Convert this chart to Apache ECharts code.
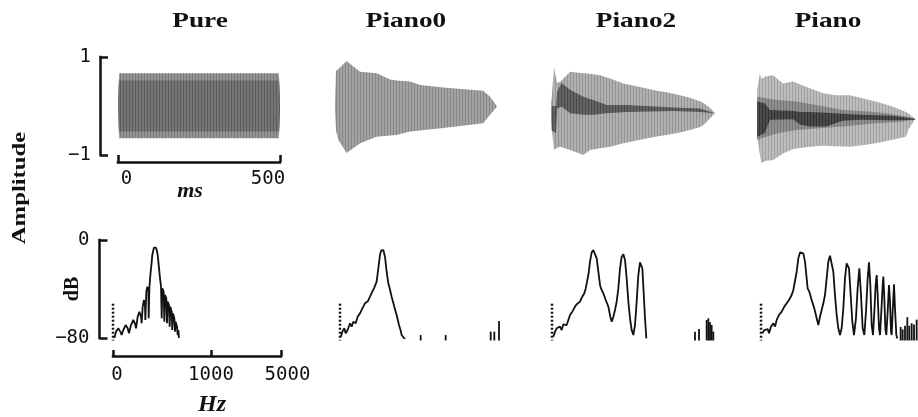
<!DOCTYPE html>
<html>
<head>
<meta charset="utf-8">
<script src="https://cdn.jsdelivr.net/npm/echarts@6/dist/echarts.min.js"></script>
<style>
  html, body { margin: 0; background: #fff; }
  #chart { width: 918px; height: 417px; }
</style>
</head>
<body>
<div id="chart"></div>
<script>
const panelTitles = ["Pure", "Piano0", "Piano2", "Piano"];
const timeTicks = [0, 500];
const ampTicks = [-1, 1];
const dbTicks = [-80, 0];
const freqTicks = [0, 1000, 5000];

// waveform envelopes: time in ms, upper and lower amplitude
const pureT = [0, 2, 4, 496, 498, 500];
const pureHi = [0.02, 0.5, 0.67, 0.67, 0.5, 0.02];
const pureLo = [-0.02, -0.5, -0.66, -0.66, -0.5, -0.02];
const pureCoreHi = [0.02, 0.4, 0.52, 0.52, 0.4, 0.02];
const pureCoreLo = [-0.02, -0.4, -0.52, -0.52, -0.4, -0.02];

const piano0T = [0, 3, 10, 35, 76, 126, 167, 187, 227, 258, 328, 449, 470, 490];
const piano0Hi = [0.05, 0.72, 0.75, 0.92, 0.7, 0.67, 0.54, 0.52, 0.5, 0.43, 0.38, 0.31, 0.19, 0];
const piano0Lo = [-0.05, -0.5, -0.69, -0.96, -0.76, -0.63, -0.6, -0.59, -0.52, -0.5, -0.45, -0.35, -0.18, -0.02];

const piano2T = [0, 2, 9, 18, 29, 58, 98, 118, 148, 179, 219, 270, 320, 350, 391, 421, 452, 462, 482, 497];
const piano2Hi = [0.1, 0.15, 0.8, 0.47, 0.5, 0.7, 0.67, 0.66, 0.63, 0.56, 0.46, 0.39, 0.31, 0.28, 0.22, 0.17, 0.09, 0.06, -0.04, -0.15];
const piano2Lo = [-0.3, -0.42, -0.9, -0.85, -0.83, -0.9, -1, -0.9, -0.86, -0.83, -0.76, -0.69, -0.62, -0.59, -0.54, -0.49, -0.43, -0.39, -0.25, -0.15];
const piano2DarkT = [2, 15, 19, 32, 58, 98, 128, 169, 229, 371, 452, 497];
const piano2DarkHi = [0, 0, 0.3, 0.47, 0.33, 0.19, 0.12, 0.02, 0.02, -0.03, -0.05, -0.15];
const piano2DarkLo = [-0.5, -0.55, -0.05, -0.01, -0.15, -0.18, -0.18, -0.15, -0.12, -0.1, -0.12, -0.15];

const pianoT = [0, 4, 9, 14, 25, 50, 81, 112, 164, 205, 246, 287, 328, 369, 421, 462, 472, 491];
const pianoHi = [0.33, 0.45, 0.67, 0.55, 0.6, 0.63, 0.46, 0.5, 0.36, 0.26, 0.22, 0.22, 0.16, 0.09, -0.01, -0.12, -0.16, -0.27];
const pianoLo = [-0.6, -0.76, -1, -1.17, -1.12, -1.1, -0.97, -0.88, -0.83, -0.81, -0.82, -0.83, -0.8, -0.76, -0.69, -0.63, -0.46, -0.27];
const pianoMidT = [0, 61, 122, 184, 266, 369, 452, 491];
const pianoMidHi = [0.19, 0.12, 0.09, 0.02, -0.08, -0.12, -0.2, -0.26];
const pianoMidLo = [-0.69, -0.56, -0.49, -0.46, -0.42, -0.35, -0.32, -0.27];
const pianoDarkT = [0, 25, 40, 112, 133, 164, 215, 266, 318, 421, 491];
const pianoDarkHi = [0.09, 0.05, -0.08, -0.1, -0.12, -0.12, -0.14, -0.16, -0.18, -0.2, -0.26];
const pianoDarkLo = [-0.63, -0.55, -0.28, -0.27, -0.38, -0.42, -0.42, -0.3, -0.28, -0.29, -0.28];

// spectra: frequency in Hz, level in dB
const pureFreq = [14, 31, 54, 78, 88, 105, 129, 150, 163, 184, 207, 224, 235, 252, 269, 286, 292, 303, 316, 326, 330, 340, 350, 361, 364, 371, 378, 395, 401, 412, 418, 429, 439, 446, 456, 463, 480, 490, 497, 503, 517, 524, 531, 544, 551, 558, 571, 578, 585, 599, 605, 612, 626, 633, 639, 653, 660, 667, 673];
const pureLevel = [-80, -74.8, -72.1, -75.4, -77.6, -73.5, -69.4, -72.1, -76.2, -69.4, -65.3, -68, -72.1, -62.6, -58.5, -62.6, -68, -54.4, -49, -53.1, -65.3, -42.2, -38.1, -40.8, -63.9, -39.5, -31.3, -17.7, -12.2, -8.2, -6.3, -5.4, -6.3, -8.2, -12.2, -17.7, -31.3, -38.1, -63.9, -39.5, -42.2, -66.7, -44.9, -47.6, -68, -50.3, -53.1, -70.7, -54.4, -58.5, -73.5, -59.9, -63.9, -74.8, -66.7, -70.7, -77.6, -73.5, -80];

const piano0Freq = [10, 24, 44, 58, 78, 102, 119, 136, 160, 180, 204, 228, 255, 282, 306, 330, 350, 364, 374, 391, 408, 420, 432, 442, 459, 476, 493, 503, 527, 554, 578, 602, 612, 622, 629, 646, 663];
const piano0Level = [-78.9, -74.8, -72.1, -76.2, -73.5, -68, -70.7, -66.7, -68, -62.6, -59.9, -55.8, -51.7, -50.3, -46.3, -42.2, -38.9, -38.1, -34, -23.1, -12.2, -8.5, -7.3, -8.2, -13.6, -25.9, -35.4, -38.1, -46.3, -54.4, -61.2, -69.4, -72.1, -74.8, -77.6, -78.9, -81];
const piano0SpikeFreq = [823, 1438, 4010, 4219, 4486];
const piano0SpikeLevel = [-77.6, -77.6, -74.8, -74.8, -66.1];

const piano2Freq = [14, 31, 48, 65, 82, 99, 116, 133, 150, 167, 184, 207, 235, 252, 269, 286, 309, 330, 344, 357, 371, 388, 405, 422, 439, 456, 473, 490, 500, 524, 548, 575, 595, 609, 626, 643, 660, 677, 694, 711, 728, 745, 762, 779, 796, 813, 830, 847, 864, 881, 898, 908, 922, 935, 949, 963];
const piano2Level = [-78.9, -74.8, -72.1, -73.5, -70.7, -73.5, -68.8, -67.2, -69.4, -65.3, -61.2, -58.5, -54.4, -52.5, -53.1, -50.3, -46.3, -43.5, -39.5, -38.1, -28.6, -17.7, -10.1, -8.2, -9, -15, -25.9, -36.7, -39.5, -43.5, -49, -54.4, -62.6, -66.7, -62.6, -57.1, -50.3, -39.5, -23.1, -13.6, -11.7, -16.3, -31.3, -50.3, -63.9, -73.5, -77.6, -69.4, -50.3, -28.6, -18.2, -17.1, -23.1, -42.2, -63.9, -80.3];
const piano2SpikeFreq = [3571, 3800, 4238, 4333, 4429, 4524, 4619];
const piano2SpikeLevel = [-74.8, -72.7, -65.3, -63.9, -67.2, -69.4, -74.8];

const pianoFreq = [14, 34, 48, 68, 82, 102, 126, 143, 160, 184, 211, 238, 262, 286, 313, 330, 347, 364, 381, 398, 415, 432, 449, 466, 476, 493, 517, 544, 568, 585, 602, 619, 636, 653, 670, 687, 704, 721, 738, 755, 772, 789, 806, 823, 840, 857, 874, 884, 898, 915, 932, 949, 969, 986, 1019, 1114, 1210, 1305, 1400, 1495, 1571, 1648, 1724, 1800, 1876, 1952, 2010, 2067, 2143, 2200, 2276, 2352, 2390, 2448, 2505, 2562, 2638, 2714, 2771, 2829, 2867, 2924, 3000, 3057, 3133, 3190];
const pianoLevel = [-76.2, -73.5, -74.8, -72.7, -76.2, -70.7, -68, -70.7, -65.3, -61.2, -58.5, -54.4, -51.7, -49, -44.9, -40.8, -39.5, -25.9, -15, -10.1, -9, -10.9, -17.7, -31.3, -39.5, -42.2, -49, -55.8, -63.9, -69.4, -62.6, -57.1, -51.7, -44.9, -31.3, -17.7, -12.8, -13.6, -25.9, -44.9, -61.2, -72.1, -77.6, -72.1, -55.8, -31.3, -19, -18.2, -23.1, -44.9, -66.7, -77.6, -63.9, -39.5, -23.1, -44.9, -72.1, -77.6, -58.5, -31.3, -18.2, -36.7, -69.4, -77.6, -58.5, -36.7, -28.6, -44.9, -72.1, -77.6, -58.5, -36.7, -29.9, -47.6, -72.1, -77.6, -58.5, -36.7, -50.3, -74.8, -77.6, -58.5, -36.2, -55.8, -77.6, -80.3];
const pianoSpikeFreq = [3381, 3495, 3629, 3762, 3876, 4010, 4143, 4295];
const pianoSpikeLevel = [-71, -73, -70, -63, -70, -68, -69, -65];

// dotted marker at 0 Hz, dB range
const markerSpan = [-52, -82];

// frequency axis: 0-1000 Hz takes the first 98 units, 1000-5000 Hz the last 70
const LOW_SPAN = 98;
const HIGH_SPAN = 70;
function warpHz(f) {
  return f <= 1000 ? (f / 1000) * LOW_SPAN : LOW_SPAN + ((f - 1000) / 4000) * HIGH_SPAN;
}

const INK = "#111";
const digitFont = { fontFamily: "DejaVu Sans Mono", fontSize: 19, color: INK };

const waveGrids = [
  { left: 118, width: 162 },
  { left: 335, width: 165 },
  { left: 551, width: 165 },
  { left: 757, width: 161 }
];
const specLefts = [113, 340, 552, 761];

// fine vertical hatching, to look like a densely drawn waveform
function stripes(base, line) {
  const c = document.createElement("canvas");
  c.width = 3;
  c.height = 6;
  const ctx = c.getContext("2d");
  ctx.fillStyle = base;
  ctx.fillRect(0, 0, 3, 6);
  ctx.fillStyle = line;
  ctx.fillRect(0, 0, 1, 6);
  return { image: c, repeat: "repeat" };
}

function envelopeSeries(axis, t, hi, lo, fill) {
  return {
    type: "custom",
    xAxisIndex: axis,
    yAxisIndex: axis,
    silent: true,
    clip: false,
    encode: { x: 0, y: [1, 2] },
    data: t.map((x, i) => [x, hi[i], lo[i]]),
    renderItem(params, api) {
      if (params.dataIndex !== 0) return null;
      const top = t.map((x, i) => api.coord([x, hi[i]]));
      const bottom = t.map((x, i) => api.coord([x, lo[i]])).reverse();
      return {
        type: "polygon",
        shape: { points: top.concat(bottom) },
        style: { fill }
      };
    }
  };
}

function spectrumSeries(axis, freq, level) {
  return {
    type: "line",
    xAxisIndex: axis,
    yAxisIndex: axis,
    silent: true,
    showSymbol: false,
    lineStyle: { color: INK, width: 1.8 },
    data: freq.map((f, i) => [warpHz(f), level[i]])
  };
}

function markerSeries(axis) {
  return {
    type: "line",
    xAxisIndex: axis,
    yAxisIndex: axis,
    silent: true,
    clip: false,
    showSymbol: false,
    lineStyle: { color: INK, width: 2.5, type: [2, 2] },
    data: markerSpan.map((v) => [0, v])
  };
}

function spikeSeries(axis, freq, level) {
  return {
    type: "custom",
    xAxisIndex: axis,
    yAxisIndex: axis,
    silent: true,
    clip: false,
    data: freq.map((f, i) => [warpHz(f), level[i]]),
    renderItem(params, api) {
      const top = api.coord([api.value(0), api.value(1)]);
      const base = api.coord([api.value(0), -82]);
      return {
        type: "line",
        shape: { x1: top[0], y1: top[1], x2: base[0], y2: base[1] },
        style: { stroke: INK, lineWidth: 1.8 }
      };
    }
  };
}

function bracketLine() {
  return { show: true, onZero: false, lineStyle: { color: INK, width: 2.5, cap: "square" } };
}

function minusLabel(v) {
  return v < 0 ? "\u2212" + Math.abs(v) : String(v);
}

function buildAxes() {
  const xAxis = [];
  const yAxis = [];
  const hidden = { show: false };

  for (let i = 0; i < 4; i++) {
    const first = i === 0;
    xAxis.push({
      gridIndex: i,
      type: "value",
      position: "bottom",
      min: 0,
      max: 500,
      show: first,
      offset: 7,
      axisLine: bracketLine(),
      axisTick: { show: true, inside: true, length: 7, customValues: timeTicks, lineStyle: { color: INK, width: 2.5 } },
      axisLabel: {
        customValues: timeTicks,
        margin: 8,
        ...digitFont,
        formatter: (v) => (v === 0 ? "{a|0}" : "{b|" + v + "}"),
        rich: {
          a: { ...digitFont, padding: [0, 0, 0, 17] },
          b: { ...digitFont, padding: [0, 24, 0, 0] }
        }
      },
      splitLine: hidden,
      name: first ? "ms" : "",
      nameLocation: "middle",
      nameGap: 18,
      nameMoveOverlap: false,
      nameTextStyle: {
        fontFamily: "Liberation Serif",
        fontStyle: "italic",
        fontWeight: "bold",
        fontSize: 22,
        color: INK,
        padding: [0, 18, 0, 0]
      }
    });
    yAxis.push({
      gridIndex: i,
      type: "value",
      position: "left",
      min: -1,
      max: 1,
      show: first,
      offset: 18,
      axisLine: bracketLine(),
      axisTick: { show: true, inside: true, length: 8, customValues: ampTicks, lineStyle: { color: INK, width: 2.5 } },
      axisLabel: { customValues: ampTicks, margin: 9, ...digitFont, formatter: minusLabel },
      splitLine: hidden
    });
  }

  for (let i = 0; i < 4; i++) {
    const first = i === 0;
    xAxis.push({
      gridIndex: 4 + i,
      type: "value",
      position: "bottom",
      min: 0,
      max: LOW_SPAN + HIGH_SPAN,
      show: first,
      offset: 18,
      axisLine: bracketLine(),
      axisTick: {
        show: true,
        inside: true,
        length: 6,
        customValues: freqTicks.map(warpHz),
        lineStyle: { color: INK, width: 2.5 }
      },
      axisLabel: {
        customValues: freqTicks.map(warpHz),
        margin: 10,
        ...digitFont,
        formatter: (v) => {
          const hz = freqTicks.find((f) => Math.abs(warpHz(f) - v) < 1e-6);
          if (hz === 0) return "{a|0}";
          if (hz === 5000) return "{c|5000}";
          return String(hz);
        },
        rich: {
          a: { ...digitFont, padding: [0, 0, 0, 8] },
          c: { ...digitFont, padding: [0, 0, 0, 13] }
        }
      },
      splitLine: hidden,
      name: first ? "Hz" : "",
      nameLocation: "middle",
      nameGap: 37,
      nameMoveOverlap: false,
      nameTextStyle: {
        fontFamily: "Liberation Serif",
        fontStyle: "italic",
        fontWeight: "bold",
        fontSize: 24,
        color: INK,
        padding: [0, 0, 0, 30]
      }
    });
    yAxis.push({
      gridIndex: 4 + i,
      type: "value",
      position: "left",
      min: -80,
      max: 0,
      show: first,
      offset: 13.5,
      axisLine: bracketLine(),
      axisTick: { show: true, inside: true, length: 8, customValues: dbTicks, lineStyle: { color: INK, width: 2.5 } },
      axisLabel: { customValues: dbTicks, margin: 10, ...digitFont, formatter: minusLabel },
      splitLine: hidden,
      name: first ? "dB" : "",
      nameLocation: "middle",
      nameGap: 17,
      nameMoveOverlap: false,
      nameTextStyle: { fontFamily: "Liberation Serif", fontWeight: "bold", fontSize: 20, color: INK }
    });
  }
  return { xAxis, yAxis };
}

function buildSeries() {
  return [
    envelopeSeries(0, pureT, pureHi, pureLo, stripes("#959595", "#7a7a7a")),
    envelopeSeries(0, pureT, pureCoreHi, pureCoreLo, stripes("#747474", "#5e5e5e")),
    envelopeSeries(1, piano0T, piano0Hi, piano0Lo, stripes("#a2a2a2", "#878787")),
    envelopeSeries(2, piano2T, piano2Hi, piano2Lo, stripes("#b0b0b0", "#949494")),
    envelopeSeries(2, piano2DarkT, piano2DarkHi, piano2DarkLo, stripes("#626262", "#4c4c4c")),
    envelopeSeries(3, pianoT, pianoHi, pianoLo, stripes("#bcbcbc", "#a2a2a2")),
    envelopeSeries(3, pianoMidT, pianoMidHi, pianoMidLo, stripes("#8e8e8e", "#777")),
    envelopeSeries(3, pianoDarkT, pianoDarkHi, pianoDarkLo, stripes("#4a4a4a", "#333")),

    spectrumSeries(4, pureFreq, pureLevel),
    markerSeries(4),
    spectrumSeries(5, piano0Freq, piano0Level),
    markerSeries(5),
    spikeSeries(5, piano0SpikeFreq, piano0SpikeLevel),
    spectrumSeries(6, piano2Freq, piano2Level),
    markerSeries(6),
    spikeSeries(6, piano2SpikeFreq, piano2SpikeLevel),
    spectrumSeries(7, pianoFreq, pianoLevel),
    markerSeries(7),
    spikeSeries(7, pianoSpikeFreq, pianoSpikeLevel)
  ];
}

const titleCenters = [200, 406, 636, 828];

function buildGraphic() {
  const titles = panelTitles.map((text, i) => ({
    type: "text",
    x: titleCenters[i],
    y: 21,
    scaleX: 1.24,
    style: {
      text,
      fill: INK,
      font: "bold 22px 'Liberation Serif'",
      textAlign: "center",
      textVerticalAlign: "middle"
    }
  }));
  titles.push({
    type: "text",
    x: 20,
    y: 188,
    rotation: Math.PI / 2,
    scaleX: 1.3,
    style: {
      text: "Amplitude",
      fill: INK,
      font: "bold 19px 'Liberation Serif'",
      textAlign: "center",
      textVerticalAlign: "middle"
    }
  });
  return titles;
}

const chart = echarts.init(document.getElementById("chart"), null, { renderer: "canvas" });
const axes = buildAxes();
const grid = waveGrids
  .map((g) => ({ left: g.left, width: g.width, top: 57, height: 98, outerBoundsMode: "none" }))
  .concat(specLefts.map((left) => ({ left, width: LOW_SPAN + HIGH_SPAN, top: 240, height: 98, outerBoundsMode: "none" })));

chart.setOption({
  backgroundColor: "#fff",
  animation: false,
  grid,
  xAxis: axes.xAxis,
  yAxis: axes.yAxis,
  series: buildSeries(),
  graphic: buildGraphic()
});
</script>
</body>
</html>
